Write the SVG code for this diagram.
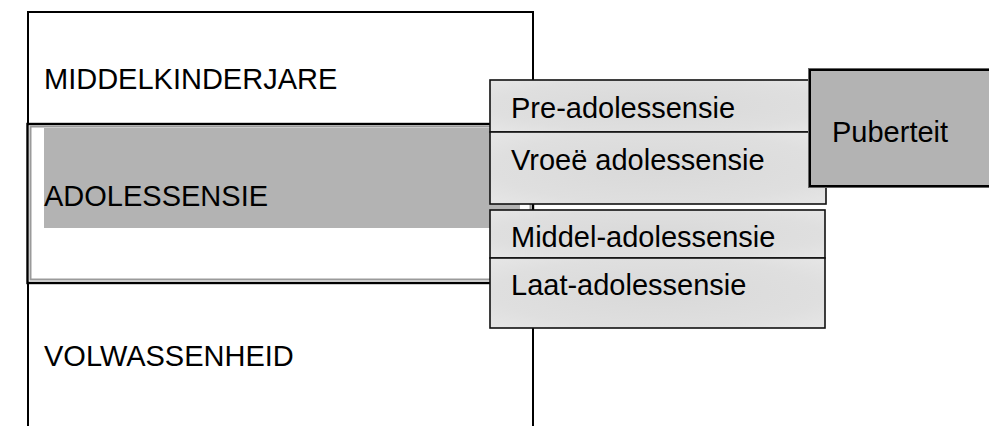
<svg xmlns="http://www.w3.org/2000/svg" width="989" height="426" viewBox="0 0 989 426">
  <defs>
    <radialGradient id="subfill" cx="0.5" cy="0.5" r="0.7">
      <stop offset="0" stop-color="#d9d9d9"/>
      <stop offset="0.7" stop-color="#dfdfdf"/>
      <stop offset="1" stop-color="#e6e6e6"/>
    </radialGradient>
  </defs>
  <style>
    text { font-family: "Liberation Sans", Arial, sans-serif; font-size: 29px; fill: #000; }
    .sub { fill: url(#subfill); stroke: #111; stroke-width: 1.6; }
  </style>
  <rect x="0" y="0" width="989" height="426" fill="#fff"/>

  <g id="stages">
    <rect x="28" y="12" width="505" height="430" fill="#fff" stroke="#000" stroke-width="2"/>
    <text x="44" y="89">MIDDELKINDERJARE</text>
    <text x="44" y="366">VOLWASSENHEID</text>
  </g>

  <g id="adolessensie">
    <rect x="27.5" y="124" width="505.5" height="159" fill="#fff" stroke="#000" stroke-width="2.4"/>
    <rect x="30.5" y="126.5" width="500" height="153" fill="none" stroke="#9a9a9a" stroke-width="2"/>
    <rect x="44" y="128" width="476" height="100" fill="#b3b3b3"/>
    <text x="44" y="206">ADOLESSENSIE</text>
  </g>

  <g id="pre-adolessensie">
    <rect class="sub" x="490" y="80" width="336" height="52"/>
    <text x="511" y="118">Pre-adolessensie</text>
  </g>

  <g id="vroee-adolessensie">
    <rect class="sub" x="490" y="132" width="336" height="72"/>
    <text x="511" y="170">Vroeë adolessensie</text>
  </g>

  <g id="puberteit">
    <rect x="808.5" y="68.5" width="200" height="119" fill="none" stroke="#666" stroke-width="1"/>
    <rect x="810" y="70" width="200" height="116" fill="#b3b3b3" stroke="#000" stroke-width="2"/>
    <text x="832" y="142">Puberteit</text>
  </g>

  <g id="middel-adolessensie">
    <rect class="sub" x="490" y="210" width="335" height="48"/>
    <text x="511" y="247">Middel-adolessensie</text>
  </g>

  <g id="laat-adolessensie">
    <rect class="sub" x="490" y="258" width="335" height="70"/>
    <text x="511" y="295">Laat-adolessensie</text>
  </g>

  <g id="connectors"/>
</svg>
